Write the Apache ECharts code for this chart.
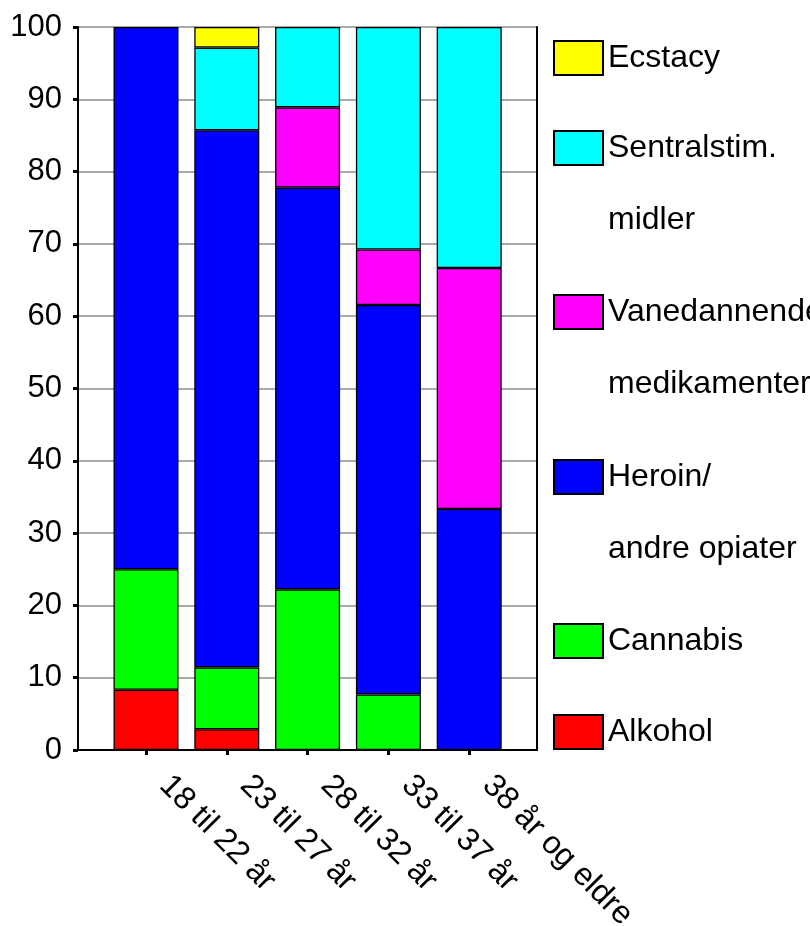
<!DOCTYPE html>
<html>
<head>
<meta charset="utf-8">
<script src="https://cdn.jsdelivr.net/npm/echarts@6/dist/echarts.min.js"></script>
<style>
  html, body { margin: 0; padding: 0; background: #fff; }
  #chart { width: 810px; height: 926px; }
</style>
</head>
<body>
<div id="chart"></div>
<script>
// Age groups on the category axis
const ageGroups = ['18 til 22 år', '23 til 27 år', '28 til 32 år', '33 til 37 år', '38 år og eldre'];

// Share (%) of each main substance within each age group; null = not present
const alkohol      = [8.33, 2.86, null, null, null];
const cannabis     = [16.67, 8.57, 22.22, 7.69, null];
const heroin       = [75.00, 74.29, 55.56, 53.85, 33.33];
const vanedannende = [null, null, 11.11, 7.69, 33.33];
const sentralstim  = [null, 11.43, 11.11, 30.77, 33.33];
const ecstacy      = [null, 2.86, null, null, null];

const yTicks = [0, 10, 20, 30, 40, 50, 60, 70, 80, 90, 100];

const FONT = '"Liberation Sans", Arial, sans-serif';

// Stack order bottom to top
const seriesDefs = [
  { name: 'Alkohol', data: alkohol, color: '#ff0000', lines: ['Alkohol'], iconTop: 715 },
  { name: 'Cannabis', data: cannabis, color: '#00ff00', lines: ['Cannabis'], iconTop: 624 },
  { name: 'Heroin/ andre opiater', data: heroin, color: '#0000ff', lines: ['Heroin/', 'andre opiater'], iconTop: 460 },
  { name: 'Vanedannende medikamenter', data: vanedannende, color: '#ff00ff', lines: ['Vanedannende', 'medikamenter'], iconTop: 295 },
  { name: 'Sentralstim. midler', data: sentralstim, color: '#00ffff', lines: ['Sentralstim.', 'midler'], iconTop: 131 },
  { name: 'Ecstacy', data: ecstacy, color: '#ffff00', lines: ['Ecstacy'], iconTop: 41 }
];

const LH = 72; // legend line height
// Legend text is centred on its marker; a wrapped name gets an empty
// leading line so that its first line sits beside the marker.
const legends = seriesDefs.map(function (s) {
  const twoLines = s.lines.length > 1;
  const label = twoLines ? '\n' + s.lines.join('\n') : s.lines[0];
  return {
    data: [s.name],
    left: 553,
    top: s.iconTop - (twoLines ? 91 : 19),
    padding: 0,
    icon: 'rect',
    itemWidth: 49,
    itemHeight: 34,
    itemGap: 0,
    selectedMode: false,
    formatter: function () { return label; },
    textStyle: {
      fontFamily: FONT,
      fontSize: 32,
      color: '#000',
      lineHeight: LH
    }
  };
});

const option = {
  animation: false,
  backgroundColor: '#fff',
  legend: legends,
  grid: [
    // frame, value axis and gridlines
    { left: 78, right: 273, top: 27, bottom: 176, containLabel: false, outerBoundsMode: 'none' },
    // bars and category ticks
    { left: 105.6, right: 300.4, top: 27, bottom: 176, containLabel: false, outerBoundsMode: 'none' }
  ],
  xAxis: [
    {
      gridIndex: 0, type: 'value', min: 0, max: 1,
      axisLine: { show: true, onZero: false, lineStyle: { color: '#000', width: 2 } },
      axisTick: { show: false }, axisLabel: { show: false }, splitLine: { show: false }
    },
    {
      gridIndex: 1, type: 'category', data: ageGroups, boundaryGap: true,
      axisLine: { show: false },
      axisTick: { show: true, alignWithLabel: true, length: 5, lineStyle: { color: '#000', width: 3 } },
      axisLabel: {
        rotate: -45, margin: 12, interval: 0,
        padding: [0, 0, 0, 26],
        fontFamily: FONT, fontSize: 32, color: '#000'
      },
      splitLine: { show: false }
    }
  ],
  yAxis: [
    {
      gridIndex: 0, type: 'value', min: yTicks[0], max: yTicks[yTicks.length - 1], interval: 10,
      axisLine: { show: true, lineStyle: { color: '#000', width: 2 } },
      axisTick: { show: true, length: 5, lineStyle: { color: '#000', width: 3 } },
      axisLabel: { margin: 16, fontFamily: FONT, fontSize: 31, color: '#000' },
      splitLine: { show: true, lineStyle: { color: '#8c8c8c', width: 1.5 } }
    },
    {
      gridIndex: 0, type: 'value', position: 'right', min: 0, max: 100,
      axisLine: { show: true, lineStyle: { color: '#000', width: 2 } },
      axisTick: { show: false }, axisLabel: { show: false }, splitLine: { show: false }
    },
    {
      gridIndex: 1, type: 'value', min: 0, max: 100, show: false
    }
  ],
  series: seriesDefs.map(function (s) {
    return {
      name: s.name,
      type: 'bar',
      xAxisIndex: 1,
      yAxisIndex: 2,
      stack: 'total',
      barWidth: 65,
      data: s.data,
      itemStyle: { color: s.color, borderColor: '#000', borderWidth: 1.3 },
      emphasis: { disabled: true }
    };
  })
};

const chart = echarts.init(document.getElementById('chart'), null, { renderer: 'canvas' });
chart.setOption(option);
</script>
</body>
</html>
